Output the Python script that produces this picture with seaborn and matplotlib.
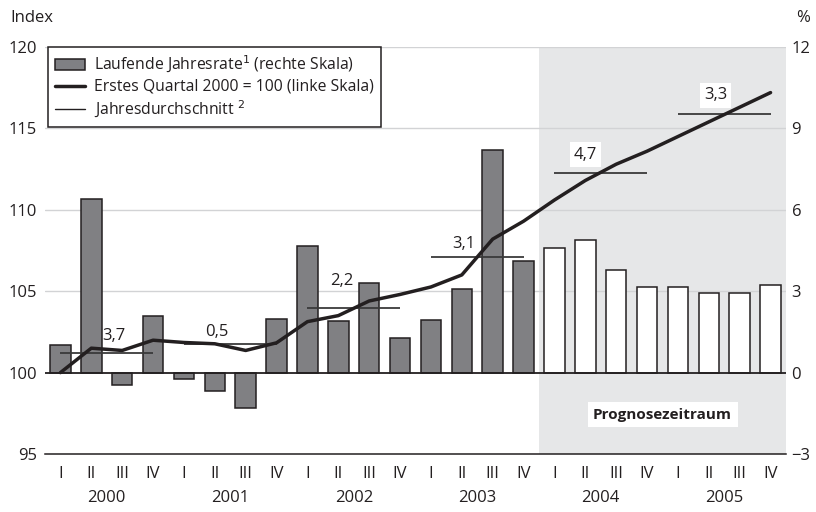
import numpy as np
import pandas as pd
import matplotlib
matplotlib.use("Agg")
import matplotlib.pyplot as plt
from matplotlib.patches import Patch
from matplotlib.lines import Line2D
import seaborn as sns

# --- data ---
years = ["2000", "2001", "2002", "2003", "2004", "2005"]
quarters = ["I", "II", "III", "IV"]

# running annual rate, % (right scale)
rate = [1.0, 6.4, -0.46, 2.1,
        -0.23, -0.69, -1.29, 1.97,
        4.67, 1.89, 3.32, 1.29,
        1.95, 3.08, 8.2, 4.13,
        4.58, 4.89, 3.77, 3.15,
        3.15, 2.92, 2.92, 3.22]

# index, first quarter 2000 = 100 (left scale)
index = [100.0, 101.5, 101.36, 101.99,
         101.85, 101.77, 101.36, 101.83,
         103.13, 103.5, 104.4, 104.8,
         105.26, 106.0, 108.2, 109.3,
         110.6, 111.8, 112.8, 113.6,
         114.5, 115.4, 116.3, 117.2]

forecast = [False] * 16 + [True] * 8

# annual averages (index level) and their labels
avg_level = [101.2, 101.75, 103.98, 107.13, 112.23, 115.87]
avg_label = ["3,7", "0,5", "2,2", "3,1", "4,7", "3,3"]
label_x = [1.74, 5.07, 9.11, 13.05, 17.01, 21.22]
label_y = [102.27, 102.48, 105.63, 107.9, 113.39, 117.03]

df = pd.DataFrame({
    "pos": np.arange(len(rate)),
    "quarter": [f"{y} {q}" for y in years for q in quarters],
    "rate": rate,
    "index": index,
    "kind": ["Prognose" if f else "Ist" for f in forecast],
})

sns.set_style("white")
plt.rcParams["font.family"] = ["Open Sans", "DejaVu Sans"]
text_col = "#231f20"
fs = 12

fig = plt.figure(figsize=(8.16, 5.12), dpi=100)
ax = fig.add_axes([45 / 816, 58 / 512, 741 / 816, 407 / 512])

# forecast shading + grid
ax.axvspan(15.5, 23.5, color="#e6e7e8", zorder=0, lw=0)
for g in [3, 6, 9, 12]:
    ax.axhline(g, color="#d2d3d5", lw=1, zorder=0.5)

# bars on the right (%) scale
sns.barplot(data=df, x="quarter", y="rate", hue="kind",
            palette={"Ist": "#7f8084", "Prognose": "white"},
            dodge=False, width=0.66, edgecolor=text_col, linewidth=1.1,
            legend=False, ax=ax, zorder=2)
ax.axhline(0, color=text_col, lw=1.3, zorder=3)

ax.set_xlim(-0.5, 23.5)
ax.set_ylim(-3, 12)
ax.set_xlabel("")
ax.set_ylabel("")

# index line on the left scale
ax2 = ax.twinx()
sns.lineplot(data=df, x="pos", y="index", color=text_col, lw=2.5, ax=ax2, zorder=4)
for j, lvl in enumerate(avg_level):
    ax2.hlines(lvl, j * 4, j * 4 + 3, color="#3a3a3a", lw=1.3, zorder=3)
    boxed = j >= 4
    ax2.text(label_x[j], label_y[j], avg_label[j], ha="center", va="center",
             fontsize=fs, color=text_col,
             bbox=dict(facecolor="white", edgecolor="none", pad=3) if boxed else None)

ax2.set_ylim(95, 120)
ax2.set_xlim(-0.5, 23.5)
ax2.set_ylabel("")
ax2.set_xlabel("")
for s in ["top", "left", "right", "bottom"]:
    ax2.spines[s].set_visible(False)

# y ticks: % on the right (bars axis), index on the left (line axis)
ax.yaxis.tick_right()
ax.set_yticks([-3, 0, 3, 6, 9, 12])
ax.set_yticklabels(["\u22123", "0", "3", "6", "9", "12"])
ax.tick_params(axis="y", length=0, labelsize=fs, labelcolor=text_col, pad=4)
ax2.yaxis.tick_left()
ax2.set_yticks([95, 100, 105, 110, 115, 120])
ax2.tick_params(axis="y", length=0, labelsize=fs, labelcolor=text_col, pad=6)

# x axis: year ticks long, quarter ticks short
ax.set_xticks(np.arange(-0.5, 24, 4))
ax.set_xticklabels([])
ax.set_xticks(np.arange(-0.5, 24, 1), minor=True)
ax.tick_params(axis="x", which="major", length=12, width=1, color=text_col)
ax.tick_params(axis="x", which="minor", length=6, width=1, color=text_col)
ax2.tick_params(axis="x", which="both", length=0, labelbottom=False)
for s in ["top", "left", "right"]:
    ax.spines[s].set_visible(False)
ax.spines["bottom"].set_color(text_col)
ax.spines["bottom"].set_linewidth(1.1)

xt = ax.get_xaxis_transform()
for i in range(24):
    ax.text(i, -0.05, quarters[i % 4], transform=xt, ha="center", va="center",
            fontsize=fs, color=text_col)
for j, y in enumerate(years):
    ax.text(j * 4 + 1.5, -0.108, y, transform=xt, ha="center", va="center",
            fontsize=fs, color=text_col)

ax2.text(19.5, 0.096, "Prognosezeitraum", transform=ax2.get_xaxis_transform(),
         ha="center", va="center", fontsize=11, fontweight="bold", color=text_col,
         bbox=dict(facecolor="white", edgecolor="none", pad=4), zorder=5)

handles = [
    Patch(facecolor="#7f8084", edgecolor=text_col, lw=1.1),
    Line2D([], [], color=text_col, lw=2.5),
    Line2D([], [], color=text_col, lw=1),
]
labels = ["Laufende Jahresrate$^1$ (rechte Skala)",
          "Erstes Quartal 2000 = 100 (linke Skala)",
          "Jahresdurchschnitt $^2$"]
leg = ax2.legend(handles, labels, loc="upper left", bbox_to_anchor=(0.004, 1.0),
                 frameon=True, fancybox=False, framealpha=1, edgecolor=text_col,
                 fontsize=11.3, handlelength=1.9, handletextpad=0.6,
                 borderpad=0.45, labelspacing=0.25, borderaxespad=0)
leg.get_frame().set_linewidth(1.1)
for t in leg.get_texts():
    t.set_color(text_col)

fig.text(10 / 816, 1 - 18 / 512, "Index", ha="left", va="center", fontsize=fs, color=text_col)
fig.text(803 / 816, 1 - 18 / 512, "%", ha="center", va="center", fontsize=fs, color=text_col)

fig.savefig("out.png", dpi=100)
